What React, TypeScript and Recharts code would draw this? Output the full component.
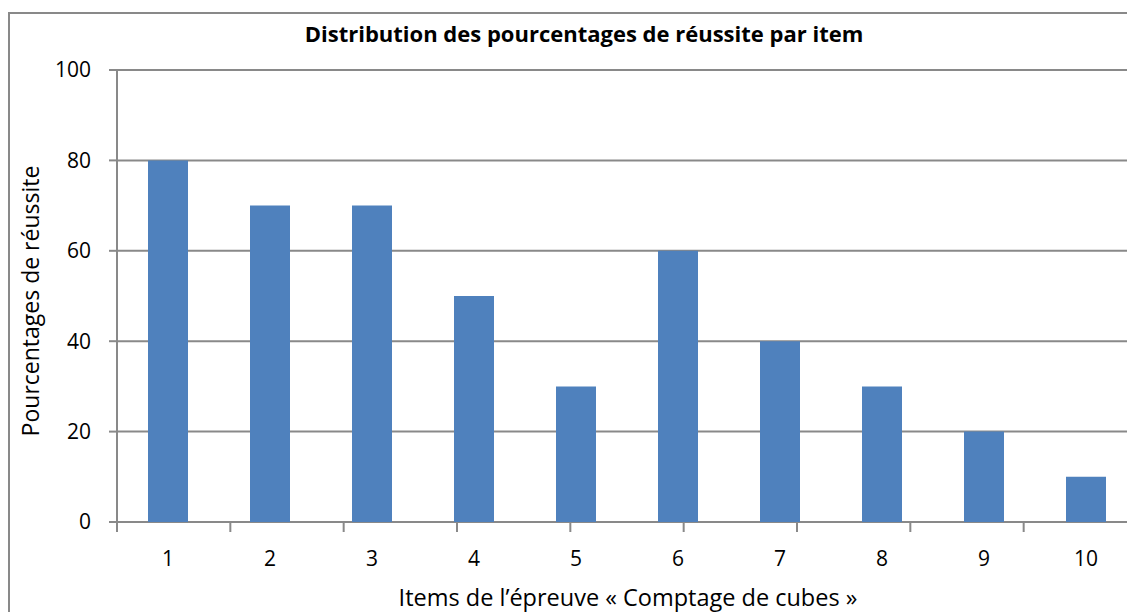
import { BarChart, Bar, XAxis, YAxis, CartesianGrid } from 'recharts';

const items = ['1', '2', '3', '4', '5', '6', '7', '8', '9', '10'];
const reussite = [80, 70, 70, 50, 30, 60, 40, 30, 20, 10];
const yTicks = [0, 20, 40, 60, 80, 100];
const itemEdges = [0, 1, 2, 3, 4, 5, 6, 7, 8, 9, 10];

const data = items.map((item, i) => ({ item, value: reussite[i] }));

const GRAY = '#898989';
const FONT = '"Open Sans", Lato, sans-serif';

export default function App() {
  return (
    <div style={{ position: 'relative', width: 1127, height: 604, overflow: 'hidden', fontFamily: FONT }}>
      <div
        style={{
          position: 'absolute',
          left: 0,
          top: 4,
          width: 1200,
          height: 700,
          border: `2px solid ${GRAY}`,
          boxSizing: 'border-box',
        }}
      />
      <div style={{ position: 'absolute', left: 0, top: 0 }}>
        <BarChart
          width={1140}
          height={600}
          data={data}
          margin={{ top: 62, right: 11, left: 0, bottom: 84 }}
        >
          <CartesianGrid vertical={false} stroke={GRAY} strokeWidth={2} xAxisId="cat" />
          {/* tick marks between the items */}
          <XAxis
            xAxisId="edge"
            type="number"
            domain={[0, 10]}
            ticks={itemEdges}
            height={1}
            axisLine={false}
            tickSize={9}
            tickLine={{ stroke: GRAY, strokeWidth: 2 }}
            tickFormatter={() => ''}
          />
          <XAxis
            xAxisId="cat"
            dataKey="item"
            height={1}
            tickLine={false}
            tickSize={0}
            tickMargin={29}
            axisLine={false}
            tick={{ fill: '#000', fontSize: 21, fontFamily: FONT }}
            interval={0}
          />
          <YAxis
            width={109}
            domain={[0, 100]}
            ticks={yTicks}
            tickSize={8}
            tickMargin={18}
            axisLine={{ stroke: GRAY, strokeWidth: 2 }}
            tickLine={{ stroke: GRAY, strokeWidth: 2 }}
            tick={{ fill: '#000', fontSize: 21, fontFamily: FONT }}
          />
          <Bar dataKey="value" xAxisId="cat" fill="#4F81BD" barSize={40} isAnimationActive={false} />
        </BarChart>
      </div>
      <div
        style={{
          position: 'absolute',
          left: 576,
          top: 10,
          transform: 'translateX(-50%)',
          whiteSpace: 'nowrap',
          fontWeight: 'bold',
          fontSize: 22,
          color: '#000',
        }}
      >
        Distribution des pourcentages de réussite par item
      </div>
      <div
        style={{
          position: 'absolute',
          left: 620,
          top: 573,
          transform: 'translateX(-50%)',
          whiteSpace: 'nowrap',
          fontSize: 23.5,
          color: '#000',
        }}
      >
        Items de l’épreuve « Comptage de cubes »
      </div>
      <div
        style={{
          position: 'absolute',
          left: 22,
          top: 293,
          transform: 'translate(-50%, -50%) rotate(-90deg)',
          whiteSpace: 'nowrap',
          fontSize: 23,
          color: '#000',
        }}
      >
        Pourcentages de réussite
      </div>
    </div>
  );
}
